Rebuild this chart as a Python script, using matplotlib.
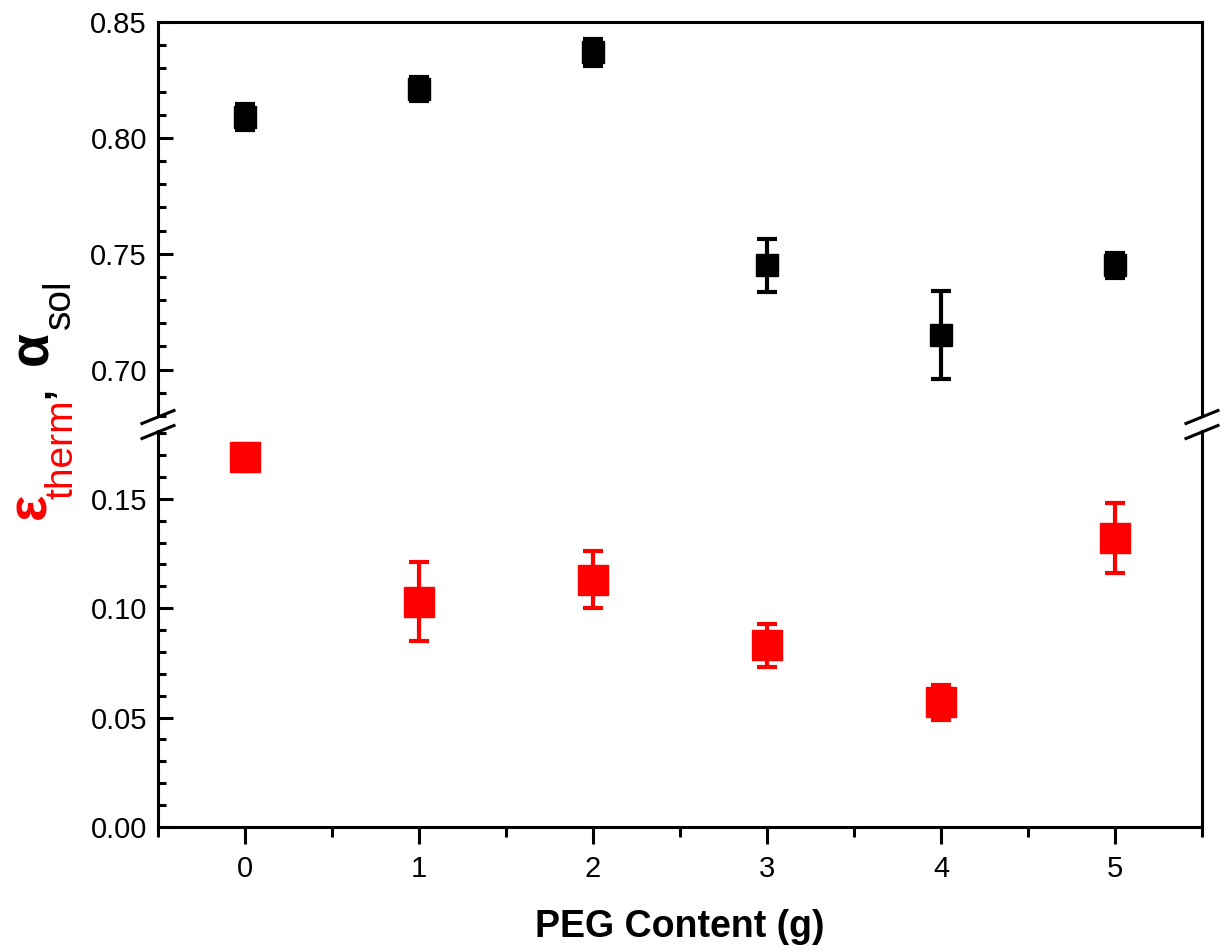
import matplotlib
matplotlib.use("Agg")
import matplotlib.pyplot as plt
from matplotlib.lines import Line2D
from matplotlib.ticker import MultipleLocator, FormatStrFormatter

plt.rcParams['font.family'] = ['Liberation Sans', 'DejaVu Sans']

# PEG content (g)
peg = [0, 1, 2, 3, 4, 5]
# solar absorptance (black) and thermal emittance (red), with std. errors
alpha_sol = [0.809, 0.821, 0.837, 0.745, 0.715, 0.745]
alpha_err = [0.0055, 0.0052, 0.0058, 0.0115, 0.019, 0.0055]
eps_therm = [0.169, 0.103, 0.113, 0.083, 0.057, 0.132]
eps_err = [0.0062, 0.018, 0.013, 0.0098, 0.008, 0.016]

lo_ticks = [0.00, 0.05, 0.10, 0.15]
hi_ticks = [0.70, 0.75, 0.80, 0.85]

W, H = 1220, 952
fig = plt.figure(figsize=(W / 100, H / 100), dpi=100)


def box(l, t, r, b):
    return [l / W, 1 - b / H, (r - l) / W, (b - t) / H]


ax_lo = fig.add_axes(box(158, 431, 1202, 827))
ax_hi = fig.add_axes(box(158, 22, 1202, 416))

LW = 2.2
for ax in (ax_lo, ax_hi):
    for s in ax.spines.values():
        s.set_linewidth(LW)
    ax.set_xlim(-0.5, 5.5)
    ax.yaxis.set_major_formatter(FormatStrFormatter('%.2f'))
    ax.yaxis.set_minor_locator(MultipleLocator(0.01))
    ax.tick_params(axis='y', which='major', direction='in', length=11, width=LW,
                   labelsize=21, pad=8)
    ax.tick_params(axis='y', which='minor', direction='in', length=6, width=LW)

ax_lo.spines['top'].set_visible(False)
ax_hi.spines['bottom'].set_visible(False)

ax_lo.set_ylim(0, 0.181)
ax_lo.set_yticks(lo_ticks)
ax_hi.set_ylim(0.68, 0.85)
ax_hi.set_yticks(hi_ticks)

ax_lo.set_xticks(peg)
ax_lo.xaxis.set_minor_locator(MultipleLocator(0.5))
ax_lo.tick_params(axis='x', which='major', direction='out', length=12, width=LW,
                  labelsize=21, pad=8)
ax_lo.tick_params(axis='x', which='minor', direction='out', length=7, width=LW)
ax_hi.tick_params(axis='x', which='both', bottom=False, labelbottom=False)

ax_hi.errorbar(peg, alpha_sol, yerr=alpha_err, fmt='s', color='black', ms=15.5,
               elinewidth=3, capsize=7, capthick=3, clip_on=False)
ax_lo.errorbar(peg, eps_therm, yerr=eps_err, fmt='s', color='red', ms=21,
               elinewidth=3, capsize=7, capthick=3, clip_on=False)

ax_lo.set_xlabel('PEG Content (g)', fontsize=27, fontweight='bold', labelpad=19)

# axis break marks on both vertical spines
for xs in (158, 1202):
    for yc in (417, 432):
        fig.add_artist(Line2D([(xs - 16) / W, (xs + 16) / W],
                              [1 - (yc + 6.5) / H, 1 - (yc - 6.5) / H],
                              color='black', lw=LW))

# two-coloured y label, built from rotated pieces
label_parts = [
    ('\u03b5', 'red', 40, 'bold', 45, 519),
    ('therm', 'red', 28, 'normal', 72, 499),
    (',', 'black', 28, 'bold', 49, 398),
    ('\u03b1', 'black', 40, 'bold', 47, 365),
    ('sol', 'black', 28, 'normal', 70, 329),
]
for s, c, fs, fw, bx, by in label_parts:
    fig.text(bx / W, 1 - by / H, s, color=c, fontsize=fs, fontweight=fw,
             rotation=90, rotation_mode='anchor', ha='left', va='baseline')

fig.savefig('out.png', dpi=100)
